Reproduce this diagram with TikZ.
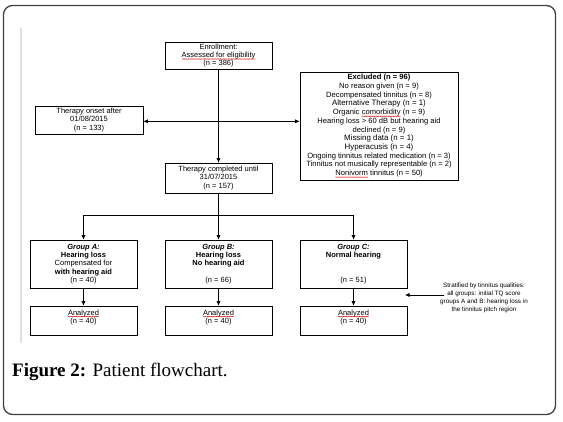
\documentclass[tikz,border=0pt]{standalone}
\usepackage{fontspec}
\setmainfont{Liberation Serif}
\newfontfamily\arial{Liberation Sans}
\usetikzlibrary{arrows.meta,decorations.pathmorphing}
\newcommand\redul[1]{\tikz[baseline=(w.base)]{\node[inner sep=0pt,outer sep=0pt,draw=none,fill=none,
   minimum width=0pt,minimum height=0pt] (w) {#1};
   \draw[red!85!black, line width=0.35pt, decorate,
     decoration={snake, amplitude=0.35pt, segment length=1.6pt}]
     ([yshift=-1.6pt]w.base west) -- ([yshift=-1.6pt]w.base east);}}
\begin{document}
\begin{tikzpicture}[x=1pt,y=-1pt,
  box/.style={draw=black, line width=0.6pt, inner sep=0pt, align=center,
    font=\arial\fontsize{7.5}{8.2}\selectfont},
  grp/.style={box, minimum width=107pt, minimum height=48pt},
  ana/.style={box, minimum width=107pt, minimum height=29pt},
  arr/.style={-{Latex[length=4.5pt,width=4pt]}, line width=0.6pt},
  ln/.style={line width=0.6pt}]
\useasboundingbox (0,0) rectangle (563,422);
\draw[line width=1.3pt, draw=black!75, rounded corners=9pt] (3.5,5.5) rectangle (555.5,414.5);
\draw[line width=2pt, draw=black!12] (21,28) -- (21,343);

\node[box, minimum width=107pt, minimum height=27pt] (enr) at (218.5,55.5)
  {Enrollment:\\\redul{Assessed for eligibility}\\(n = 386)};
\node[box, minimum width=158pt, minimum height=108pt,
  font=\arial\fontsize{7.6}{8.7}\selectfont] (exc) at (379,126)
  {\textbf{Excluded (n = 96)}\\
   No reason given (n = 9)\\
   Decompensated tinnitus (n = 8)\\
   {\fontsize{7.9}{8.7}\selectfont Alternative Therapy (n = 1)}\\
   Organic \redul{comorbidity} (n = 9)\\
   Hearing loss > 60 dB but hearing aid\\
   declined (n = 9)\\
   {\fontsize{7.9}{8.7}\selectfont Missing data (n = 1)}\\
   {\fontsize{7.9}{8.7}\selectfont Hyperacusis (n = 4)}\\
   Ongoing tinnitus related medication (n = 3)\\
   Tinnitus not musically representable (n = 2)\\
   \redul{Nonivorm} tinnitus (n = 50)};
\node[box, minimum width=108pt, minimum height=28pt] (ons) at (89,120)
  {Therapy onset after\\01/08/2015\\(n = 133)};
\node[box, minimum width=107pt, minimum height=30pt] (tc) at (218.5,178)
  {Therapy completed until\\31/07/2015\\(n = 157)};

\node[grp] (ga) at (83.5,264)
  {{\bfseries\itshape Group A:}\\\textbf{Hearing loss}\\Compensated for\\\textbf{with hearing aid}\\(n = 40)};
\node[grp] (gb) at (218.5,264)
  {{\bfseries\itshape Group B:}\\\textbf{Hearing loss}\\\textbf{No hearing aid}\\\mbox{}\\(n = 66)};
\node[grp] (gc) at (353.5,264)
  {{\bfseries\itshape Group C:}\\\textbf{Normal hearing}\\\mbox{}\\\mbox{}\\(n = 51)};

\node[ana] (aa) at (83.5,320.5) {\redul{Analyzed}\\(n = 40)\\\mbox{}};
\node[ana] (ab) at (218.5,320.5) {\redul{Analyzed}\\(n = 40)\\\mbox{}};
\node[ana] (ac) at (353.5,320.5) {\redul{Analyzed}\\(n = 40)\\\mbox{}};

\node[align=center, inner sep=0pt, font=\arial\fontsize{6.3}{7.8}\selectfont] (str) at (484,298)
  {Stratified by tinnitus qualities:\\all groups: initial TQ score\\groups A and B: hearing loss in\\the tinnitus pitch region};
\coordinate (stip) at (405,295);

\node[anchor=base west, inner sep=0pt, font=\fontsize{19}{21}\selectfont] (cap) at (12,377)
  {\textbf{Figure 2:} Patient flowchart.};

% connectors
\draw[arr] (enr.south) -- (tc.north);
\path (enr.south) ++(0,52) coordinate (hj);
\draw[arr] (hj) -- (hj -| ons.east);
\draw[arr] (hj) -- (hj -| exc.west);
\draw[ln] (tc.south) -- ++(0,22) coordinate (bj);
\draw[ln] (bj -| ga.north) -- (bj -| gc.north);
\draw[arr] (bj -| ga.north) -- (ga.north);
\draw[arr] (bj -| gb.north) -- (gb.north);
\draw[arr] (bj -| gc.north) -- (gc.north);
\draw[arr] (ga.south) -- (aa.north);
\draw[arr] (gb.south) -- (ab.north);
\draw[arr] (gc.south) -- (ac.north);
\draw[arr, shorten <=-4pt] (str.west |- stip) -- (stip);
\end{tikzpicture}
\end{document}
